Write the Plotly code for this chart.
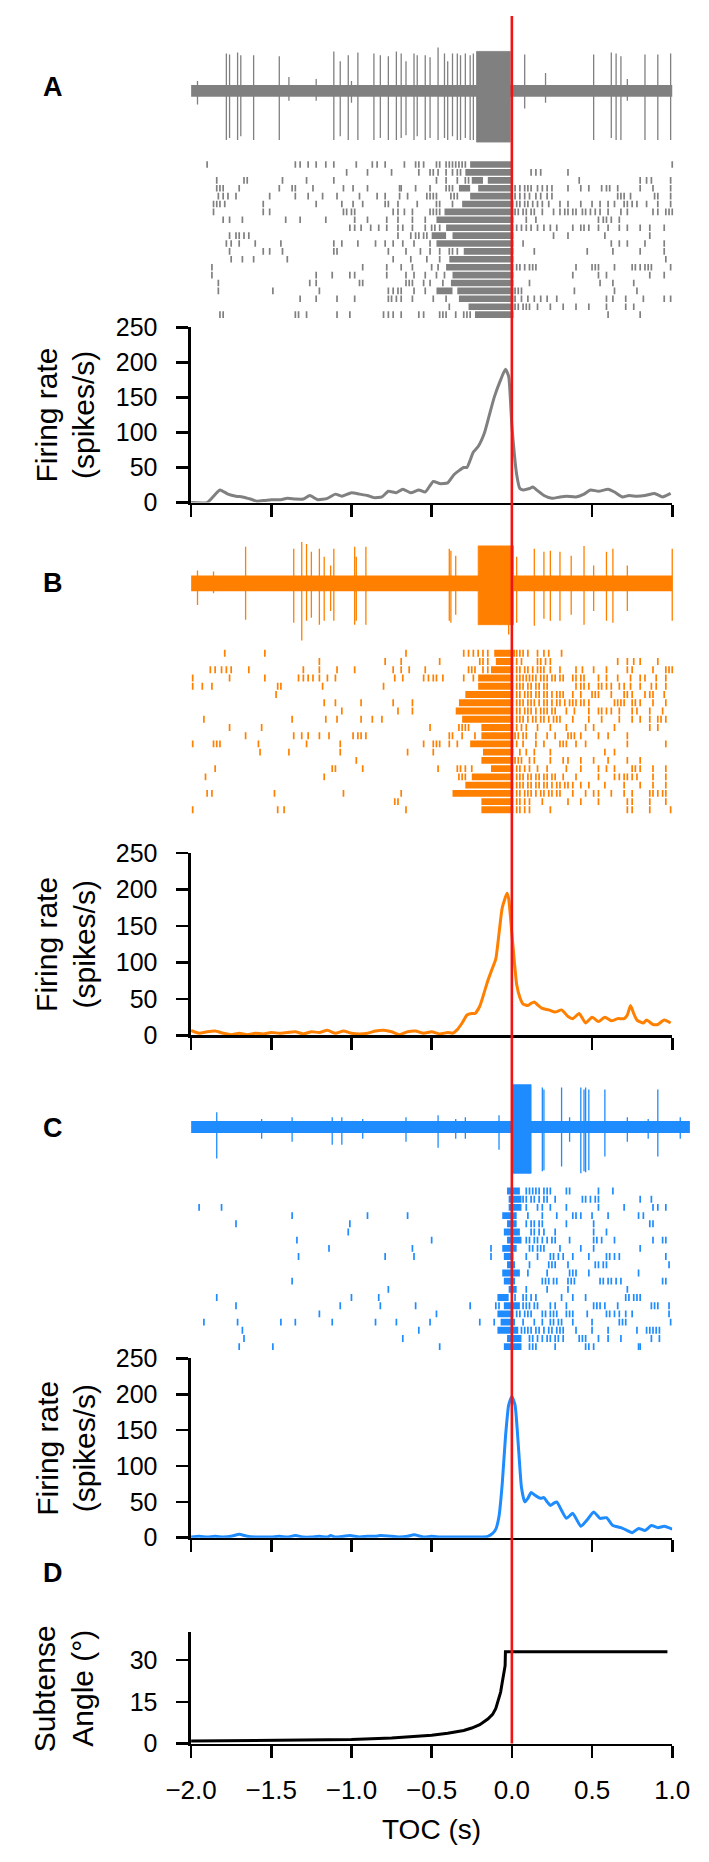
import plotly.graph_objects as go

W, H = 709, 1862
FONT = "Liberation Sans, Arial, Helvetica, sans-serif"

# ---------------- data ----------------
x_ticks = [-2.0, -1.5, -1.0, -0.5, 0.0, 0.5, 1.0]
rate_ticks = [0, 50, 100, 150, 200, 250]
angle_ticks = [0, 15, 30]

# firing rates (spikes/s)
A_rate_t = [-2.0, -1.90, -1.82, -1.77, -1.72, -1.68, -1.63, -1.59, -1.54, -1.50, -1.44, -1.40, -1.35, -1.30,
            -1.26, -1.21, -1.15, -1.10, -1.06, -1.00, -0.95, -0.90, -0.86, -0.81, -0.77, -0.72, -0.68, -0.63,
            -0.58, -0.54, -0.49, -0.45, -0.40, -0.36, -0.30, -0.28, -0.24, -0.21, -0.17, -0.14, -0.11, -0.07,
            -0.04, -0.02, 0.0, 0.03, 0.05, 0.07, 0.11, 0.13, 0.16, 0.20, 0.25, 0.30, 0.34, 0.40, 0.45, 0.49,
            0.54, 0.60, 0.64, 0.69, 0.73, 0.78, 0.83, 0.89, 0.94, 0.99]
A_rate = [0, 0, 18, 12, 9, 8, 5, 2, 3, 4, 4, 6, 5, 5,
          10, 4, 6, 12, 9, 14, 12, 10, 7, 8, 16, 14, 19, 14,
          18, 15, 30, 27, 28, 40, 50, 50, 72, 80, 100, 125, 150, 175,
          190, 180, 110, 40, 20, 18, 20, 22, 17, 10, 6, 8, 9, 8, 12, 18,
          16, 19, 15, 8, 10, 9, 10, 13, 8, 13]

B_rate_t = [-2.0, -1.95, -1.9, -1.85, -1.8, -1.75, -1.7, -1.65, -1.6, -1.55, -1.5, -1.45, -1.4, -1.35,
            -1.3, -1.25, -1.2, -1.15, -1.1, -1.05, -1.0, -0.95, -0.9, -0.85, -0.8, -0.75, -0.7, -0.65,
            -0.6, -0.55, -0.5, -0.45, -0.4, -0.37, -0.34, -0.31, -0.28, -0.25, -0.23, -0.2, -0.15, -0.125,
            -0.1, -0.08, -0.06, -0.03, -0.02, 0.0, 0.03, 0.05, 0.07, 0.10, 0.12, 0.14, 0.16, 0.19, 0.23,
            0.27, 0.31, 0.35, 0.38, 0.42, 0.46, 0.50, 0.54, 0.58, 0.62, 0.66, 0.70, 0.72, 0.74, 0.76, 0.78,
            0.82, 0.84, 0.88, 0.91, 0.95, 0.99]
B_rate = [7, 3, 5, 6, 3, 1, 3, 1, 3, 2, 4, 3, 4, 5,
          2, 5, 4, 7, 3, 6, 3, 2, 3, 6, 7, 5, 1, 5,
          6, 3, 5, 2, 4, 3, 8, 17, 28, 30, 30, 40, 75, 90,
          105, 140, 175, 195, 188, 140, 70, 52, 43, 41, 44, 46, 42, 37, 35,
          32, 35, 26, 23, 30, 17, 25, 19, 25, 20, 23, 23, 28, 41, 30, 21,
          17, 21, 15, 15, 21, 17]

C_rate_t = [-2.0, -1.95, -1.9, -1.85, -1.8, -1.75, -1.7, -1.65, -1.6, -1.55, -1.5, -1.45, -1.4, -1.35,
            -1.3, -1.25, -1.2, -1.15, -1.13, -1.1, -1.05, -1.01, -0.95, -0.9, -0.85, -0.82, -0.75, -0.7,
            -0.65, -0.61, -0.55, -0.5, -0.45, -0.4, -0.35, -0.3, -0.25, -0.2, -0.15, -0.12, -0.1, -0.08,
            -0.06, -0.04, -0.02, 0.0, 0.02, 0.04, 0.06, 0.08, 0.10, 0.12, 0.14, 0.16, 0.18, 0.20, 0.22,
            0.24, 0.26, 0.28, 0.31, 0.34, 0.38, 0.43, 0.47, 0.51, 0.55, 0.59, 0.63, 0.68, 0.72, 0.75, 0.79,
            0.83, 0.87, 0.91, 0.95, 1.0]
C_rate = [1, 2, 1, 2, 1, 2, 5, 2, 1, 1, 1, 2, 1, 3,
          1, 1, 2, 1, 3, 1, 2, 3, 1, 2, 2, 3, 2, 1,
          2, 4, 1, 2, 1, 1, 1, 1, 1, 1, 2, 6, 12, 30,
          75, 140, 185, 197, 185, 130, 70, 50, 55, 63, 60, 57, 55, 56, 50,
          45, 48, 50, 38, 27, 34, 16, 25, 36, 27, 28, 17, 14, 10, 7, 13,
          10, 17, 14, 16, 12]

# subtense angle (deg)
angle_t = [-2.0, -1.5, -1.0, -0.75, -0.5, -0.4, -0.3, -0.25, -0.2, -0.15, -0.12, -0.1, -0.08, -0.07,
           -0.06, -0.05, -0.042, -0.04, 0.97]
angle_deg = [0.9, 1.1, 1.5, 2.0, 3.0, 3.7, 4.7, 5.6, 6.8, 8.8, 10.5, 12.6, 16.0, 18.5,
             22.0, 26.0, 28.0, 33.0, 33.0]

# extracellular traces (spike times s, up / down excursions in uV)
A_spike_t = [-1.96, -1.78, -1.76, -1.71, -1.69, -1.61, -1.45, -1.39, -1.22, -1.11, -1.07, -1.02, -1.00, -0.96,
             -0.86, -0.82, -0.77, -0.72, -0.69, -0.66, -0.61, -0.59, -0.54, -0.51, -0.46, -0.42, -0.40, -0.37,
             -0.34, -0.32, -0.29, -0.26, -0.24, 0.08, 0.21, 0.51, 0.62, 0.65, 0.68, 0.72, 0.83, 0.91, 0.99]
A_spike_up = [10, 38, 37, 39, 36, 36, 35, 14, 12, 40, 30, 36, 10, 39, 38, 36, 35, 40, 38, 30, 38, 36, 36, 34,
              44, 38, 30, 38, 38, 36, 38, 36, 38, 37, 18, 37, 39, 38, 35, 12, 37, 37, 38]
A_spike_dn = [14, 50, 48, 50, 46, 50, 50, 10, 10, 50, 46, 50, 12, 50, 50, 48, 50, 50, 48, 45, 50, 46, 50, 48,
              50, 48, 50, 46, 50, 50, 48, 50, 50, 18, 12, 50, 48, 50, 50, 10, 50, 50, 50]
A_burst = [(-0.22, -0.01, 40, 52)]
A_noise = 6
A_trace_end = 1.0

B_spike_t = [-1.96, -1.86, -1.66, -1.36, -1.31, -1.28, -1.25, -1.20, -1.17, -1.13, -1.11, -0.98, -0.97, -0.91,
             -0.39, -0.38, -0.35, -0.02, 0.03, 0.14, 0.20, 0.24, 0.30, 0.37, 0.45, 0.51, 0.59, 0.63, 0.72, 1.00]
B_spike_up = [13, 12, 37, 35, 42, 40, 32, 35, 27, 18, 35, 37, 27, 37, 35, 33, 28, 38, 27, 35, 32, 33, 32, 28,
              38, 18, 32, 35, 18, 35]
B_spike_dn = [22, 10, 37, 40, 58, 38, 35, 42, 38, 28, 38, 42, 38, 42, 38, 40, 32, 52, 40, 43, 36, 38, 38, 32,
              42, 28, 38, 40, 28, 38]
B_burst = [(-0.21, 0.01, 38, 42)]
B_noise = 8
B_trace_end = 1.0

C_spike_t = [-1.84, -1.56, -1.37, -1.12, -1.06, -0.93, -0.66, -0.46, -0.35, -0.29, -0.08, 0.19, 0.20, 0.31,
             0.36, 0.43, 0.45, 0.46, 0.48, 0.58, 0.72, 0.85, 0.91, 1.05]
C_spike_up = [15, 8, 10, 10, 10, 8, 10, 12, 8, 10, 12, 40, 38, 40, 10, 40, 38, 40, 38, 38, 10, 8, 38, 10]
C_spike_dn = [32, 12, 15, 18, 18, 12, 15, 21, 12, 12, 23, 45, 44, 40, 15, 47, 45, 46, 44, 30, 15, 12, 30, 12]
C_burst = [(0.00, 0.12, 43, 47)]
C_noise = 6
C_trace_end = 1.11

# rasters: one list per trial; a number is one spike, a [start, end] pair is a solid run of spikes
A_raster = [
    [-1.90, -1.35, -1.32, -1.27, -1.22, -1.16, -1.11, -0.97, -0.87, -0.84, -0.79, -0.67, -0.60, -0.58, -0.55, -0.47, -0.45, -0.41, -0.39, -0.37, -0.35, -0.33, -0.31, -0.29, [-0.26, 0.0], 1.00],
    [-1.03, -0.90, -0.75, -0.58, -0.51, -0.49, -0.46, -0.41, -0.37, -0.34, -0.32, [-0.29, 0.0], 0.12, 0.15, 0.18, 0.35],
    [-1.84, -1.67, -1.65, -1.43, -1.28, -1.11, -0.47, -0.41, -0.34, -0.29, -0.27, [-0.25, -0.18], [-0.15, 0.0], 0.42, 0.80, 0.84, 0.87, 0.99],
    [-1.84, -1.82, -1.80, -1.70, -1.45, -1.37, -1.35, -1.24, -1.05, -0.99, -0.90, -0.70, -0.69, -0.60, -0.51, -0.41, -0.39, -0.37, [-0.33, -0.26], [-0.21, 0.0], 0.02, 0.05, 0.08, 0.10, 0.12, 0.16, 0.19, 0.22, 0.25, 0.35, 0.43, 0.48, 0.56, 0.59, 0.61, 0.66, 0.80, 0.88, 0.99],
    [-1.83, -1.80, -1.77, -1.72, -1.51, -1.35, -1.27, -1.18, -1.09, -0.95, -0.84, -0.79, -0.70, -0.65, -0.53, -0.51, -0.49, -0.47, -0.38, -0.36, -0.34, [-0.26, 0.0], 0.02, 0.05, 0.08, 0.11, 0.15, 0.18, 0.22, 0.25, 0.66, 0.68, 0.70, 0.74, 0.89, 0.91, 0.99],
    [-1.86, -1.84, -1.82, -1.79, -1.55, -1.22, -1.06, -0.99, -0.93, -0.79, -0.77, -0.71, -0.59, -0.47, -0.45, -0.37, [-0.31, 0.01], 0.03, 0.05, 0.08, 0.10, 0.13, 0.16, 0.19, 0.23, 0.30, 0.35, 0.43, 0.50, 0.55, 0.60, 0.64, 0.70, 0.72, 0.75, 0.78, 0.84, 0.91, 0.99],
    [-1.86, -1.55, -1.51, -1.05, -1.03, -1.00, -0.98, -0.74, -0.71, -0.67, -0.62, -0.51, -0.49, -0.47, -0.45, [-0.42, 0.01], 0.02, 0.04, 0.07, 0.09, 0.12, 0.14, 0.19, 0.26, 0.30, 0.33, 0.35, 0.38, 0.40, 0.44, 0.46, 0.49, 0.52, 0.55, 0.60, 0.68, 0.72, 0.88, 0.91, 0.96, 0.98, 1.00],
    [-1.80, -1.76, -1.68, -1.41, -1.32, -1.16, -0.98, -0.90, -0.78, -0.71, -0.62, -0.54, [-0.47, 0.01], 0.09, 0.15, 0.54, 0.57, 0.59, 0.62, 0.67],
    [-1.01, -0.98, -0.94, -0.88, -0.83, -0.78, -0.71, -0.68, -0.62, -0.54, -0.50, -0.48, -0.45, [-0.41, 0.01], 0.03, 0.06, 0.09, 0.12, 0.16, 0.20, 0.24, 0.28, 0.38, 0.43, 0.45, 0.48, 0.54, 0.60, 0.67, 0.72, 0.80, 0.86, 0.95],
    [-1.76, -1.72, -1.70, -1.67, -1.64, -0.71, -0.63, -0.60, -0.58, -0.55, -0.53, [-0.50, -0.41], [-0.37, 0.01], 0.26, 0.35, 0.58, 0.86],
    [-1.78, -1.75, -1.70, -1.60, -1.44, -1.11, -1.06, -0.96, -0.85, -0.79, -0.74, -0.68, -0.61, -0.51, [-0.47, 0.01], 0.07, 0.62, 0.67, 0.72, 0.83, 0.95],
    [-1.76, -1.55, -1.51, -1.43, -1.11, -1.09, -0.77, -0.66, -0.57, -0.51, -0.45, -0.39, -0.37, -0.34, [-0.30, 0.01], 0.14, 0.47, 0.63, 0.80, 0.95],
    [-1.75, -1.68, -1.61, -1.40, -0.74, -0.63, -0.53, -0.45, [-0.39, 0.01], 0.96],
    [-1.87, -0.93, -0.78, -0.69, -0.62, -0.50, -0.46, [-0.41, 0.01], 0.03, 0.05, 0.08, 0.11, 0.13, 0.15, 0.40, 0.50, 0.52, 0.54, 0.64, 0.75, 0.77, 0.80, 0.83, 0.85, 0.87, 0.99],
    [-1.87, -1.22, -1.12, -1.01, -0.98, -0.78, -0.66, -0.61, -0.54, -0.47, -0.42, [-0.37, 0.01], 0.38, 0.54, 0.59, 0.86, 0.95],
    [-1.83, -1.26, -1.22, -0.95, -0.93, -0.66, -0.64, -0.62, -0.55, -0.51, -0.43, [-0.38, 0.01], 0.11, 0.55, 0.63, 0.76],
    [-1.83, -1.49, -1.20, -0.77, -0.74, -0.71, -0.69, -0.61, -0.54, [-0.47, -0.37], [-0.34, 0.01], 0.02, 0.04, 0.06, 0.39, 0.64, 0.78],
    [-1.32, -1.22, -1.09, -0.98, -0.77, -0.75, -0.72, -0.69, -0.62, -0.49, -0.41, [-0.33, 0.01], 0.02, 0.06, 0.10, 0.14, 0.18, 0.22, 0.28, 0.59, 0.63, 0.71, 0.82, 0.95, 0.99],
    [-0.39, [-0.27, 0.01], 0.02, 0.04, 0.07, 0.09, 0.11, 0.16, 0.24, 0.32, 0.40, 0.48, 0.59, 0.71, 0.76],
    [-1.82, -1.80, -1.35, -1.33, -1.28, -1.09, -1.01, -0.80, -0.77, -0.74, -0.69, -0.58, -0.55, -0.45, -0.43, -0.41, -0.35, -0.30, -0.28, -0.26, [-0.23, 0.01], 0.60, 0.80],
]

B_raster = [
    [-1.79, -1.54, -0.66, -0.30, -0.27, -0.24, -0.21, -0.18, -0.15, [-0.11, 0.02], 0.03, 0.05, 0.07, 0.10, 0.16, 0.20, 0.23, 0.31],
    [-1.20, -0.79, -0.69, -0.45, -0.20, -0.18, -0.15, [-0.10, 0.01], 0.03, 0.06, 0.16, 0.18, 0.21, 0.24, 0.66, 0.72, 0.76, 0.80, 0.91],
    [-1.88, -1.85, -1.81, -1.78, -1.75, -1.64, -1.30, -1.20, -1.09, -0.98, -0.74, -0.69, -0.64, -0.54, -0.27, -0.25, -0.23, -0.18, -0.15, [-0.13, 0.01], 0.03, 0.05, 0.08, 0.10, 0.13, 0.16, 0.18, 0.20, 0.24, 0.30, 0.40, 0.44, 0.51, 0.59, 0.72, 0.75, 0.88, 0.96, 0.98, 1.00],
    [-1.99, -1.76, -1.54, -1.33, -1.30, -1.27, -1.24, -1.20, -1.15, -1.10, -0.73, -0.68, -0.55, -0.52, -0.49, -0.47, -0.43, -0.30, -0.24, [-0.21, 0.01], 0.03, 0.05, 0.07, 0.09, 0.11, 0.13, 0.15, 0.18, 0.20, 0.22, 0.25, 0.27, 0.30, 0.32, 0.38, 0.40, 0.43, 0.45, 0.54, 0.59, 0.66, 0.74, 0.80, 0.83, 0.90, 0.96],
    [-1.99, -1.93, -1.87, -1.46, -1.44, -1.18, -0.80, [-0.21, 0.01], 0.03, 0.05, 0.07, 0.10, 0.12, 0.15, 0.17, 0.20, 0.22, 0.40, 0.43, 0.45, 0.48, 0.54, 0.56, 0.59, 0.62, 0.67, 0.70, 0.74, 0.80, 0.87, 0.90, 0.96],
    [-1.47, [-0.29, 0.01], 0.03, 0.05, 0.08, 0.10, 0.12, 0.15, 0.17, 0.20, 0.22, 0.25, 0.28, 0.30, 0.32, 0.38, 0.43, 0.50, 0.52, 0.54, 0.62, 0.70, 0.72, 0.75, 0.83, 0.86, 0.88, 0.95],
    [-1.17, -1.10, -0.94, -0.74, -0.62, [-0.33, 0.01], 0.03, 0.05, 0.07, 0.10, 0.12, 0.14, 0.17, 0.20, 0.22, 0.25, 0.28, 0.30, 0.33, 0.36, 0.38, 0.40, 0.43, 0.45, 0.48, 0.64, 0.66, 0.68, 0.70, 0.75, 0.77, 0.80, 0.88, 0.96],
    [-1.06, -0.71, -0.62, [-0.35, 0.01], 0.03, 0.05, 0.08, 0.10, 0.12, 0.15, 0.18, 0.20, 0.22, 0.25, 0.27, 0.34, 0.39, 0.48, 0.54, 0.56, 0.59, 0.62, 0.67, 0.75, 0.78, 0.86, 0.94],
    [-1.92, -1.37, -1.16, -1.09, -0.94, -0.87, -0.81, [-0.31, 0.01], 0.03, 0.05, 0.07, 0.10, 0.13, 0.15, 0.18, 0.20, 0.23, 0.26, 0.28, 0.30, 0.38, 0.48, 0.56, 0.67, 0.75, 0.80, 0.86, 0.91, 0.93, 0.96],
    [-1.76, -1.56, -0.51, -0.33, -0.31, -0.29, -0.27, [-0.19, 0.01], 0.03, 0.06, 0.09, 0.16, 0.24, 0.34, 0.46, 0.51, 0.64, 0.86, 0.91],
    [-1.66, -1.36, -1.31, -1.27, -1.20, -1.14, -0.99, -0.96, -0.94, -0.91, -0.39, -0.37, -0.31, -0.23, [-0.19, 0.01], 0.02, 0.04, 0.07, 0.09, 0.15, 0.22, 0.27, 0.35, 0.37, 0.39, 0.43, 0.54, 0.60, 0.72],
    [-1.99, -1.86, -1.84, -1.82, -1.58, -1.28, -1.07, -0.55, -0.49, -0.47, -0.45, -0.39, -0.34, [-0.26, 0.01], 0.03, 0.07, 0.15, 0.20, 0.30, 0.32, 0.34, 0.40, 0.46, 0.72, 0.96],
    [-1.57, -1.39, -1.07, -0.65, -0.49, [-0.18, 0.01], 0.05, 0.09, 0.14, 0.24, 0.58, 0.64],
    [-0.97, [-0.19, 0.01], 0.02, 0.04, 0.06, 0.11, 0.14, 0.24, 0.32, 0.35, 0.43, 0.51, 0.60, 0.72, 0.80],
    [-1.85, -1.12, -1.10, -0.93, -0.46, -0.34, -0.32, -0.29, -0.25, [-0.13, 0.01], 0.03, 0.05, 0.08, 0.11, 0.16, 0.22, 0.34, 0.43, 0.54, 0.59, 0.64, 0.75, 0.77, 0.80, 0.88, 0.96],
    [-1.91, -1.17, -0.33, -0.31, -0.29, [-0.25, 0.01], 0.03, 0.05, 0.07, 0.10, 0.12, 0.15, 0.17, 0.20, 0.22, 0.25, 0.27, 0.32, 0.40, 0.54, 0.64, 0.67, 0.70, 0.72, 0.75, 0.78, 0.88, 0.96],
    [[-0.29, 0.01], 0.03, 0.05, 0.07, 0.10, 0.12, 0.15, 0.17, 0.20, 0.22, 0.25, 0.28, 0.30, 0.33, 0.35, 0.38, 0.43, 0.48, 0.58, 0.70, 0.80, 0.88, 0.96],
    [-1.90, -1.87, -1.48, -1.05, -0.69, [-0.37, 0.01], 0.03, 0.05, 0.08, 0.10, 0.12, 0.15, 0.18, 0.20, 0.23, 0.25, 0.28, 0.30, 0.38, 0.46, 0.51, 0.54, 0.62, 0.70, 0.75, 0.86, 0.88, 0.91, 0.94, 0.96],
    [-0.73, -0.71, [-0.19, 0.01], 0.03, 0.05, 0.08, 0.11, 0.19, 0.35, 0.43, 0.54, 0.72, 0.75, 0.86, 0.96],
    [-1.99, -1.46, -1.42, -0.66, [-0.19, 0.01], 0.03, 0.05, 0.08, 0.11, 0.24, 0.72, 0.75, 0.86, 0.99],
]

C_raster = [
    [[-0.03, 0.05], 0.09, 0.11, 0.13, 0.15, 0.17, 0.20, 0.22, 0.24, 0.34, 0.36, 0.54, 0.63],
    [[-0.02, 0.06], 0.07, 0.09, 0.12, 0.14, 0.17, 0.20, 0.22, 0.27, 0.44, 0.46, 0.49, 0.52, 0.54, 0.80, 0.87],
    [-1.95, -1.81, [-0.02, 0.06], 0.09, 0.16, 0.19, 0.24, 0.34, 0.54, 0.70, 0.88, 0.91, 0.96],
    [-1.37, -0.90, -0.65, [-0.06, 0.03], 0.10, 0.19, 0.28, 0.38, 0.40, 0.43, 0.50, 0.60, 0.79, 0.82],
    [-1.72, -1.01, [-0.03, 0.03], 0.09, 0.12, 0.14, 0.17, 0.19, 0.34, 0.51, 0.86, 0.88],
    [-1.02, [-0.05, 0.05], 0.12, 0.14, 0.17, 0.20, 0.27, 0.51, 0.59],
    [-1.34, -0.50, [-0.03, 0.06], 0.09, 0.11, 0.14, 0.16, 0.19, 0.22, 0.25, 0.27, 0.36, 0.51, 0.53, 0.56, 0.64, 0.88, 0.94, 0.96],
    [-1.14, -0.62, -0.13, [-0.06, 0.03], 0.11, 0.13, 0.16, 0.18, 0.20, 0.30, 0.43, 0.51, 0.80],
    [-1.33, -0.79, -0.61, -0.13, [-0.05, 0.01], 0.09, 0.16, 0.24, 0.26, 0.29, 0.32, 0.38, 0.48, 0.59, 0.61, 0.64, 0.67, 0.96],
    [[-0.03, 0.02], 0.11, 0.23, 0.25, 0.27, 0.35, 0.52, 0.54, 0.57, 0.59, 0.98],
    [[-0.06, 0.05], 0.10, 0.22, 0.36, 0.38, 0.40, 0.48, 0.79],
    [-1.37, [-0.05, 0.02], 0.19, 0.21, 0.23, 0.26, 0.28, 0.35, 0.37, 0.39, 0.55, 0.57, 0.60, 0.62, 0.65, 0.68, 0.94, 0.96],
    [-0.77, [-0.02, 0.03], 0.09, 0.22, 0.35, 0.72],
    [-1.84, -1.00, -0.83, [-0.09, -0.02], 0.02, 0.07, 0.09, 0.12, 0.15, 0.31, 0.38, 0.46, 0.71, 0.73, 0.76, 0.78, 0.80],
    [-1.72, -1.07, -0.82, -0.60, -0.26, -0.10, -0.08, [-0.05, 0.05], 0.07, 0.09, 0.11, 0.14, 0.16, 0.24, 0.27, 0.34, 0.51, 0.53, 0.55, 0.58, 0.66, 0.87, 0.89, 0.91, 0.98],
    [-1.20, -0.47, [-0.09, 0.01], 0.03, 0.05, 0.08, 0.10, 0.12, 0.19, 0.21, 0.24, 0.26, 0.28, 0.34, 0.36, 0.38, 0.47, 0.59, 0.61, 0.64, 0.67, 0.71, 0.75, 0.98],
    [-1.92, -1.71, -1.44, -1.35, -1.12, -0.85, -0.72, -0.51, -0.20, -0.11, [-0.07, 0.02], 0.07, 0.14, 0.19, 0.24, 0.26, 0.29, 0.31, 0.38, 0.50, 0.67, 0.69, 0.71, 0.99],
    [-1.68, -0.58, [-0.09, 0.04], 0.06, 0.08, 0.10, 0.12, 0.15, 0.17, 0.20, 0.23, 0.25, 0.28, 0.30, 0.32, 0.40, 0.50, 0.60, 0.78, 0.84, 0.86, 0.88, 0.90, 0.92],
    [-1.67, -0.68, [-0.03, 0.06], 0.11, 0.13, 0.16, 0.19, 0.22, 0.24, 0.27, 0.29, 0.32, 0.42, 0.44, 0.46, 0.54, 0.60, 0.68, 0.87, 0.92],
    [-1.70, -1.49, -0.45, [-0.05, 0.06], 0.11, 0.13, 0.15, 0.27, 0.46, 0.48, 0.51, 0.79, 0.80],
]

GRAY, ORANGE, BLUE = "#808080", "#ff8000", "#1e8cff"
RED = "#f01414"

# ---------------- layout helpers ----------------
X0_PX, X1_PX = 176, 689          # pixel positions of t=-2 and t=1


def ydom(top_px, bot_px):
    return [1 - bot_px / H, 1 - top_px / H]


fig = go.Figure()


def add_trace_panel(spk_t, up, dn, bursts, noise, t_end, color, yax):
    fig.add_trace(go.Scatter(x=[-2.0, t_end, t_end, -2.0, -2.0], y=[noise, noise, -noise, -noise, noise],
                             fill="toself", fillcolor=color, mode="lines", line=dict(width=0, color=color),
                             xaxis="x5", yaxis=yax, hoverinfo="skip"))
    xs, ys = [], []
    for t, u, d in zip(spk_t, up, dn):
        xs += [t, t, None]
        ys += [u, -d, None]
    fig.add_trace(go.Scatter(x=xs, y=ys, mode="lines", line=dict(color=color, width=1.3),
                             xaxis="x5", yaxis=yax, hoverinfo="skip"))
    for t0, t1, u, d in bursts:
        fig.add_trace(go.Scatter(x=[t0, t1, t1, t0, t0], y=[u, u, -d, -d, u], fill="toself",
                                 fillcolor=color, mode="lines", line=dict(width=0.8, color=color),
                                 xaxis="x5", yaxis=yax, hoverinfo="skip"))


def add_raster(rows, color, yax):
    xs, ys = [], []
    bb, bw, by = [], [], []
    for i, row in enumerate(rows, start=1):
        for item in row:
            if isinstance(item, list):
                bb.append(item[0]); bw.append(item[1] - item[0]); by.append(i)
            else:
                xs += [item, item, None]
                ys += [i - 0.42, i + 0.42, None]
    fig.add_trace(go.Scatter(x=xs, y=ys, mode="lines", line=dict(color=color, width=1.7),
                             xaxis="x5", yaxis=yax, hoverinfo="skip"))
    fig.add_trace(go.Bar(y=by, x=bw, base=bb, orientation="h", width=0.84,
                         marker=dict(color=color, line=dict(width=0)),
                         xaxis="x5", yaxis=yax, hoverinfo="skip"))


add_trace_panel(A_spike_t, A_spike_up, A_spike_dn, A_burst, A_noise, A_trace_end, GRAY, "y5")
add_trace_panel(B_spike_t, B_spike_up, B_spike_dn, B_burst, B_noise, B_trace_end, ORANGE, "y6")
add_trace_panel(C_spike_t, C_spike_up, C_spike_dn, C_burst, C_noise, C_trace_end, BLUE, "y7")

add_raster(A_raster, GRAY, "y8")
add_raster(B_raster, ORANGE, "y9")
add_raster(C_raster, BLUE, "y10")

for tt, rr, col, xa, ya in [(A_rate_t, A_rate, GRAY, "x", "y"),
                            (B_rate_t, B_rate, ORANGE, "x2", "y2"),
                            (C_rate_t, C_rate, BLUE, "x3", "y3")]:
    fig.add_trace(go.Scatter(x=tt, y=rr, mode="lines",
                             line=dict(color=col, width=3, shape="spline", smoothing=0.5),
                             xaxis=xa, yaxis=ya, hoverinfo="skip", cliponaxis=False))

fig.add_trace(go.Scatter(x=angle_t, y=angle_deg, mode="lines", line=dict(color="black", width=3),
                         xaxis="x4", yaxis="y4", hoverinfo="skip", cliponaxis=False))

# ---- axes ----
xdom = [X0_PX / W, X1_PX / W]
t_right = -2.0 + 3.0 * (W - X0_PX) / (X1_PX - X0_PX)
axis_common = dict(showline=True, linecolor="black", linewidth=2.6, ticks="outside", ticklen=12,
                   tickwidth=2.6, tickcolor="black", showgrid=False, zeroline=False,
                   tickfont=dict(family=FONT, size=25, color="black"))

layout = dict(
    width=W, height=H, margin=dict(l=0, r=0, t=0, b=0),
    paper_bgcolor="white", plot_bgcolor="white", showlegend=False, barmode="overlay",
)
for k, (ya, top, bot) in enumerate([("y", 318, 496), ("y2", 852, 1037), ("y3", 1365, 1547)], start=1):
    xname = "xaxis" if k == 1 else f"xaxis{k}"
    yname = "yaxis" if k == 1 else f"yaxis{k}"
    layout[xname] = dict(axis_common, domain=xdom, range=[-2, 1], anchor=ya, tickvals=x_ticks,
                         showticklabels=False)
    layout[yname] = dict(axis_common, domain=ydom(top, bot), range=[0, 250],
                         anchor="x" if k == 1 else f"x{k}", tickvals=rate_ticks, ticklabelstandoff=14)

layout["xaxis4"] = dict(axis_common, domain=xdom, range=[-2, 1], anchor="y4", tickvals=x_ticks,
                        tickformat=".1f", ticklabelstandoff=10,
                        tickfont=dict(family=FONT, size=26, color="black"))
layout["yaxis4"] = dict(axis_common, domain=ydom(1643, 1756), range=[0, 40], anchor="x4",
                        tickvals=angle_ticks, ticklabelstandoff=14)

layout["xaxis5"] = dict(domain=[X0_PX / W, 1.0], range=[-2.0, t_right], visible=False, anchor="free",
                        position=0)
layout["yaxis5"] = dict(domain=ydom(30, 140), range=[-62, 48], visible=False, anchor="x5")
layout["yaxis6"] = dict(domain=ydom(525, 645), range=[-67, 53], visible=False, anchor="x5")
layout["yaxis7"] = dict(domain=ydom(1075, 1190), range=[-60, 55], visible=False, anchor="x5")
layout["yaxis8"] = dict(domain=ydom(148, 310), range=[20.6, 0.4], visible=False, anchor="x5")
layout["yaxis9"] = dict(domain=ydom(644, 813), range=[20.6, 0.4], visible=False, anchor="x5")
layout["yaxis10"] = dict(domain=ydom(1190, 1358), range=[20.6, 0.4], visible=False, anchor="x5")

fig.update_layout(**layout)

fig.add_shape(type="line", xref="x5", yref="paper", x0=0, x1=0, y0=1 - 1756 / H, y1=1 - 2 / H,
              line=dict(color=RED, width=2.6), layer="above")


def ann(text, xpx, ypx, size, bold=False, angle=0):
    fig.add_annotation(text=f"<b>{text}</b>" if bold else text, x=xpx / W, y=1 - ypx / H,
                       xref="paper", yref="paper", xanchor="center", yanchor="middle",
                       showarrow=False, textangle=angle,
                       font=dict(family=FONT, size=size, color="black"))


for letter, ypx in [("A", 74), ("B", 578), ("C", 1131), ("D", 1583)]:
    ann(letter, 29, ypx, 27, bold=True)

for top, bot in [(318, 496), (852, 1037), (1365, 1547)]:
    ymid = (top + bot) / 2
    ann("Firing rate", 22, ymid, 30, angle=-90)
    ann("(spikes/s)", 62, ymid, 30, angle=-90)

ann("Subtense", 20, 1700, 30, angle=-90)
ann("Angle (°)", 60, 1700, 30, angle=-90)
ann("TOC (s)", 432, 1843, 28)

fig.write_html("out.html",
               config={"displayModeBar": False, "staticPlot": True},
               post_script="document.body.style.margin='0px';document.body.style.padding='0px';")
